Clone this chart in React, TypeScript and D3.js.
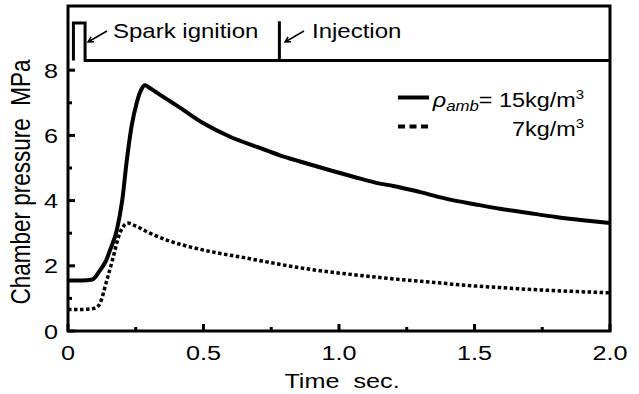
import React from "react";
import * as d3 from "d3";

const W = 639;
const H = 394;

// Chamber pressure, rho_amb = 15 kg/m3 (solid)
const tSolid = [0, 0.05, 0.09, 0.118, 0.14, 0.155, 0.18, 0.2, 0.217, 0.235, 0.253, 0.27, 0.284, 0.3, 0.35, 0.413, 0.5, 0.6, 0.7, 0.782, 0.856, 0.967, 1.05, 1.151, 1.2, 1.3, 1.41, 1.5, 1.594, 1.7, 1.8, 1.9, 2.0];
const pSolid = [1.55, 1.55, 1.58, 1.86, 2.15, 2.48, 3.09, 4.0, 5.24, 6.3, 6.98, 7.4, 7.54, 7.46, 7.19, 6.85, 6.37, 5.95, 5.64, 5.39, 5.2, 4.93, 4.74, 4.52, 4.45, 4.26, 4.03, 3.89, 3.75, 3.62, 3.5, 3.4, 3.31];

// Chamber pressure, rho_amb = 7 kg/m3 (dotted)
const tDot = [0, 0.05, 0.1, 0.118, 0.143, 0.167, 0.186, 0.2, 0.22, 0.25, 0.3, 0.364, 0.45, 0.536, 0.65, 0.733, 0.856, 0.93, 1.05, 1.225, 1.35, 1.471, 1.6, 1.717, 1.85, 2.0];
const pDot = [0.66, 0.66, 0.7, 0.85, 1.55, 2.27, 2.88, 3.15, 3.31, 3.22, 3.01, 2.79, 2.58, 2.42, 2.25, 2.12, 1.94, 1.85, 1.73, 1.58, 1.49, 1.4, 1.33, 1.27, 1.22, 1.17];

const xMajor = [0, 0.5, 1.0, 1.5, 2.0];
const xMajorLabels = ["0", "0.5", "1.0", "1.5", "2.0"];
const xMinor = [0.25, 0.75, 1.25, 1.75];
const yMajor = [0, 2, 4, 6, 8];
const yMinor = [1, 3, 5, 7];

// signal trace (top panel)
const sigBase = 8.3;
const sparkStart = 0.02;
const sparkEnd = 0.063;
const sparkTop = 9.45;
const injectionT = 0.78;
const injectionTop = 9.5;

const SX = 1.2;
const FONT = "Arial, 'Liberation Sans', Helvetica, sans-serif";

function T({ x, y, anchor = "start", size = 21, children, style }: any) {
  return (
    <text
      transform={`translate(${x},${y}) scale(${SX},1)`}
      textAnchor={anchor}
      fontSize={size}
      fontFamily={FONT}
      fill="#000"
      style={style}
    >
      {children}
    </text>
  );
}

export default function App() {
  const left = 68;
  const right = 610;
  const x = d3.scaleLinear().domain([0, 2]).range([left, right]);
  const y = d3.scaleLinear().domain([0, 10]).range([331, 5]);
  const top = 6;
  const bottom = y(0);

  const line = d3
    .line<[number, number]>()
    .x((d) => x(d[0]))
    .y((d) => y(d[1]))
    .curve(d3.curveMonotoneX);

  const solidPts = tSolid.map((t, i) => [t, pSolid[i]] as [number, number]);
  const dotPts = tDot.map((t, i) => [t, pDot[i]] as [number, number]);

  const sigPath = `M${x(sparkStart)},${y(sigBase)}V${y(sparkTop)}H${x(sparkEnd)}V${y(sigBase)}H${x(2)}`;
  const injPath = `M${x(injectionT)},${y(sigBase)}V${y(injectionTop)}`;

  const arrow = (x1: number, y1: number, x2: number, y2: number) => {
    const ang = Math.atan2(y2 - y1, x2 - x1);
    const L = 6;
    const a1 = ang + Math.PI - 0.5;
    const a2 = ang + Math.PI + 0.5;
    return `M${x1},${y1}L${x2},${y2}M${x2 + L * Math.cos(a1)},${y2 + L * Math.sin(a1)}L${x2},${y2}L${x2 + L * Math.cos(a2)},${y2 + L * Math.sin(a2)}`;
  };

  return (
    <svg
      width={W}
      height={H}
      style={{ position: "absolute", left: 0, top: 0, background: "#fff" }}
    >
      <rect x={0} y={0} width={W} height={H} fill="#fff" />
      {/* frame */}
      <rect
        x={left}
        y={top}
        width={right - left}
        height={bottom - top}
        fill="none"
        stroke="#000"
        strokeWidth={3}
      />
      {/* y ticks */}
      {yMajor.map((v) => (
        <line key={"ym" + v} x1={left} x2={left + 7} y1={y(v)} y2={y(v)} stroke="#000" strokeWidth={3} />
      ))}
      {yMinor.map((v) => (
        <line key={"yn" + v} x1={left} x2={left + 4} y1={y(v)} y2={y(v)} stroke="#000" strokeWidth={3} />
      ))}
      {/* x ticks */}
      {xMajor.map((v) => (
        <line key={"xm" + v} x1={x(v)} x2={x(v)} y1={bottom} y2={bottom - 7} stroke="#000" strokeWidth={3} />
      ))}
      {xMinor.map((v) => (
        <line key={"xn" + v} x1={x(v)} x2={x(v)} y1={bottom} y2={bottom - 4} stroke="#000" strokeWidth={3} />
      ))}
      {/* tick labels */}
      {yMajor.map((v) => (
        <T key={"yl" + v} x={58} y={y(v) + 7.5} anchor="end">
          {String(v)}
        </T>
      ))}
      {xMajor.map((v, i) => (
        <T key={"xl" + v} x={x(v)} y={360} anchor="middle">
          {xMajorLabels[i]}
        </T>
      ))}
      {/* axis titles */}
      <T x={342} y={388} anchor="middle">
        {"Time\u00a0\u00a0sec."}
      </T>
      <text
        transform={`translate(30,182) scale(${SX},1) rotate(-90)`}
        textAnchor="middle"
        fontSize={22.5}
        fontFamily={FONT}
        fill="#000"
      >
        {"Chamber pressure\u00a0\u00a0MPa"}
      </text>

      {/* signal panel */}
      <path d={sigPath} fill="none" stroke="#000" strokeWidth={3} />
      <path d={injPath} fill="none" stroke="#000" strokeWidth={3} />
      <path d={arrow(107, 31, 88, 42)} fill="none" stroke="#000" strokeWidth={1.5} />
      <path d={arrow(304, 31, 285, 42)} fill="none" stroke="#000" strokeWidth={1.5} />
      <T x={113} y={37.5} size={20}>
        Spark ignition
      </T>
      <T x={312} y={38} size={20}>
        Injection
      </T>

      {/* curves */}
      <path d={line(solidPts) || ""} fill="none" stroke="#000" strokeWidth={4} strokeLinejoin="round" />
      <path d={line(dotPts) || ""} fill="none" stroke="#000" strokeWidth={3.5} strokeDasharray="3.5,2.5" />

      {/* legend */}
      <line x1={398} x2={429} y1={97.5} y2={97.5} stroke="#000" strokeWidth={4} />
      <line x1={398} x2={429} y1={126.5} y2={126.5} stroke="#000" strokeWidth={4} strokeDasharray="7,4.5" />
      <T x={584} y={106.5} anchor="end" size={19.5}>
        <tspan fontStyle="italic">ρ</tspan>
        <tspan fontStyle="italic" fontSize={14} dy={4}>amb</tspan>
        <tspan dy={-4}>=&nbsp;15kg/m</tspan>
        <tspan fontSize={12.5} dy={-8}>3</tspan>
      </T>
      <T x={584} y={135.5} anchor="end" size={19.5}>
        <tspan>7kg/m</tspan>
        <tspan fontSize={12.5} dy={-8}>3</tspan>
      </T>
    </svg>
  );
}
